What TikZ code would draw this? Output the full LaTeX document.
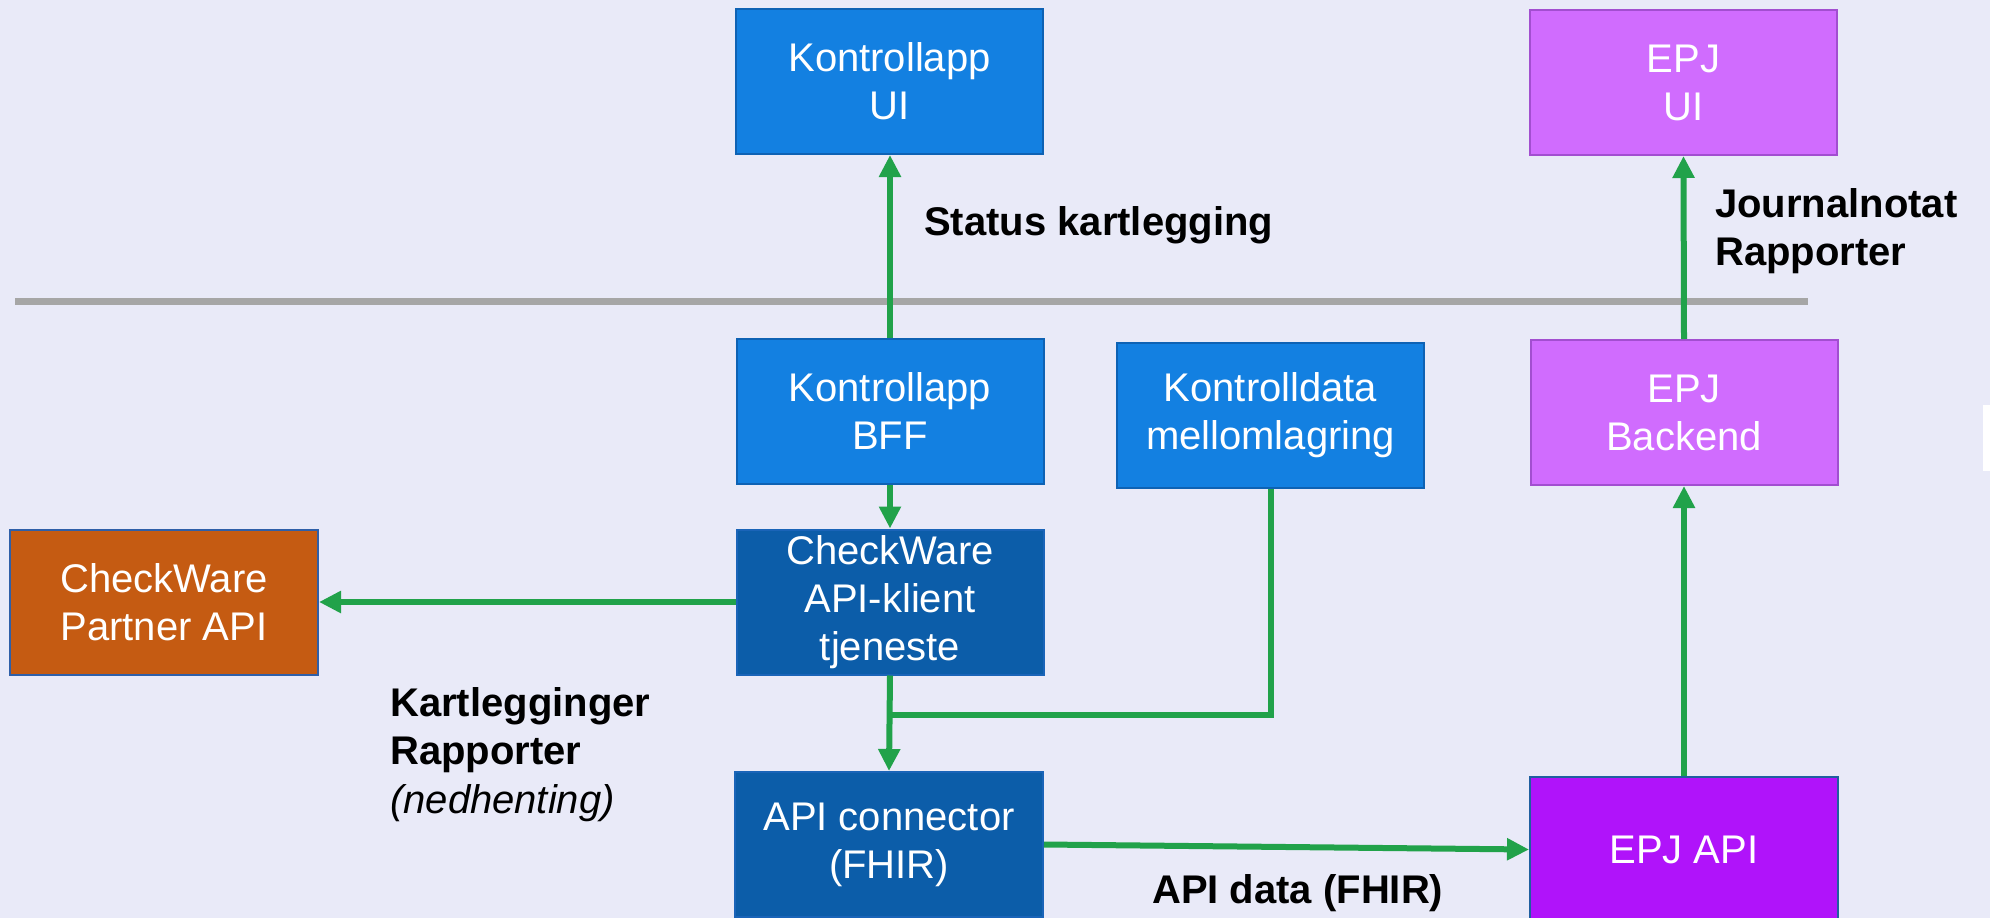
\documentclass[tikz,border=0pt]{standalone}
\usepackage{fontspec}
\setmainfont{Liberation Sans}
\usetikzlibrary{arrows.meta}
\definecolor{bgc}{HTML}{E9EAF8}
\definecolor{lblue}{HTML}{1380E1}
\definecolor{lblueb}{HTML}{0E62B4}
\definecolor{dblue}{HTML}{0C5DA9}
\definecolor{dblueb}{HTML}{1A64B8}
\definecolor{orangec}{HTML}{C55B12}
\definecolor{orangeb}{HTML}{2F5FA8}
\definecolor{orchid}{HTML}{D06CFE}
\definecolor{orchidb}{HTML}{A24ED0}
\definecolor{vpurple}{HTML}{B013FA}
\definecolor{vpurpleb}{HTML}{1F5FA0}
\definecolor{arrowg}{HTML}{21A24A}
\definecolor{sepg}{HTML}{A6A6A6}
\tikzset{
  box/.style={rectangle, minimum width=307pt, minimum height=145pt, inner sep=0pt,
    line width=2pt, align=center, text=white, font=\fontsize{40}{48}\selectfont},
  lightbox/.style={box, fill=lblue, draw=lblueb},
  darkbox/.style={box, fill=dblue, draw=dblueb},
  orangebox/.style={box, fill=orangec, draw=orangeb},
  orchidbox/.style={box, fill=orchid, draw=orchidb},
  purplebox/.style={box, fill=vpurple, draw=vpurpleb},
  flow/.style={draw=arrowg, line width=6pt, line join=miter, -{Triangle[length=22pt,width=21pt]}},
  flowline/.style={draw=arrowg, line width=6pt, line join=miter},
  lbl/.style={inner sep=0pt, align=left, font=\bfseries\fontsize{40}{48.5}\selectfont}
}
\begin{document}
\begin{tikzpicture}[x=1pt,y=-1pt]
\fill[bgc] (0,0) rectangle (1990,918);
\useasboundingbox (0,0) rectangle (1990,918);
\clip (0,0) rectangle (1990,918);
\fill[white] (1983,405) rectangle (1990,471);
% separator
\draw[sepg, line width=7pt] (15,301.5) -- (1808,301.5);
% boxes
\node[lightbox] (ui) at (889.5,81.5) {Kontrollapp\\UI};
\node[orchidbox] (epjui) at (1683.5,82.5) {EPJ\\UI};
\node[lightbox] (bff) at (890,411.5) {Kontrollapp\\BFF};
\node[lightbox] (kd) at (1270.5,415) {Kontrolldata\\mellomlagring};
\node[orchidbox] (backend) at (1684,412.5) {EPJ\\Backend};
\node[darkbox] (cw) at (890,602) {CheckWare\\API-klient\\tjeneste};
\node[orangebox, minimum width=308pt] (partner) at (164,602) {CheckWare\\Partner API};
\node[darkbox, minimum width=308pt] (apic) at (889,844.5) {API connector\\(FHIR)};
\node[purplebox, minimum width=308pt] (epjapi) at (1684,849.5) {EPJ API};
% labels
\node[lbl, anchor=base west] (lstatus) at (924,235) {Status kartlegging};
\node[lbl, anchor=north west] (ljournal) at (1715,188) {Journalnotat\\Rapporter};
\node[lbl, anchor=north west] (lkart) at (390,687) {Kartlegginger\\Rapporter\\{\mdseries\itshape (nedhenting)}};
\node[lbl, anchor=base west] (lapi) at (1152,903) {API data (FHIR)};
% connectors
\coordinate (j) at (889.5,715);
\draw[flow] (bff.north) -- (bff.north |- ui.south);
\draw[flow] (bff.south) -- (cw.north);
\draw[flow] (cw.west) -- (partner.east);
\draw[flowline] (kd.south) |- (j);
\draw[flow] (cw.south) -- (apic.north);
\draw[flow] (apic.east) -- (epjapi.west);
\draw[flow] (epjapi.north) -- (backend.south);
\draw[flow] (backend.north) -- (epjui.south);
\end{tikzpicture}
\end{document}
